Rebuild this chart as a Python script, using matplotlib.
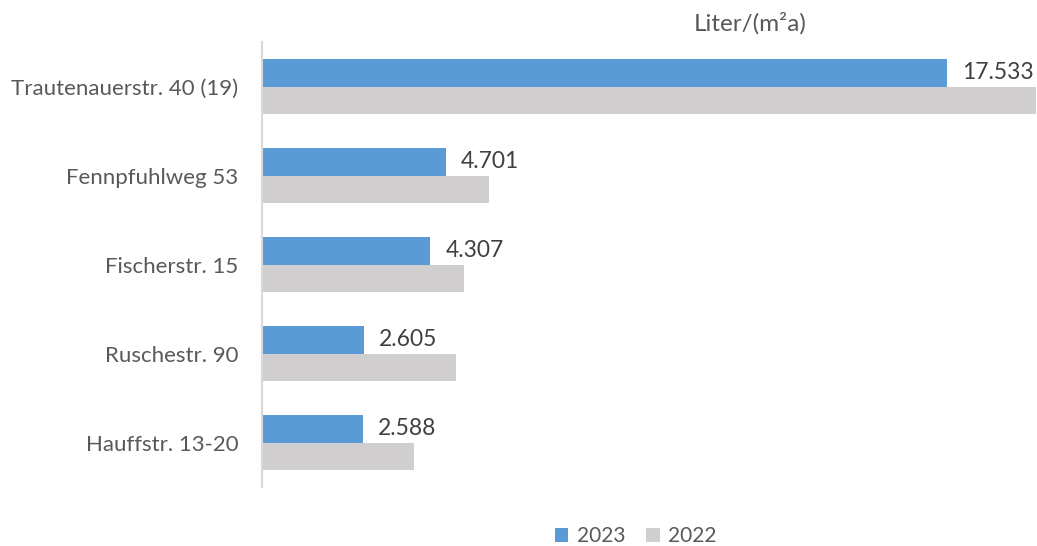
import matplotlib.pyplot as plt
import numpy as np

categories = ["Trautenauerstr. 40 (19)", "Fennpfuhlweg 53", "Fischerstr. 15",
              "Ruschestr. 90", "Hauffstr. 13-20"]
values_2023 = [17.533, 4.701, 4.307, 2.605, 2.588]
values_2022 = [19.8, 5.81, 5.18, 4.96, 3.90]
series_labels = ["2023", "2022"]
unit_label = "Liter/(m²a)"

blue = "#5B9BD5"
grey = "#D0CECE"
text_col = "#595959"

plt.rcParams['font.family'] = ['Lato', 'DejaVu Sans']

fig = plt.figure(figsize=(10.37, 5.46), dpi=100)
ax = fig.add_axes([0.2524, 0.108, 0.7476, 0.815])

y = np.arange(len(categories))
h = 0.305
ax.barh(y - h / 2, values_2023, height=h, color=blue, label=series_labels[0])
ax.barh(y + h / 2, values_2022, height=h, color=grey, label=series_labels[1])

for yi, v in zip(y, values_2023):
    ax.annotate(f"{v:.3f}", (v, yi - h / 2), xytext=(11, 0), textcoords="offset points",
                va="center", ha="left", fontsize=16.5, color="#404040")

ax.set_xlim(0, 19.83)
ax.set_ylim(len(categories) - 0.5, -0.5)
ax.set_yticks(y)
ax.set_yticklabels(categories, fontsize=16, color=text_col)
ax.tick_params(axis="y", length=0, pad=17)
ax.set_xticks([])
for s in ["top", "right", "bottom"]:
    ax.spines[s].set_visible(False)
ax.spines["left"].set_color("#D9D9D9")
ax.spines["left"].set_linewidth(1.5)

fig.text(0.723, 0.957, unit_label, ha="center", va="center", fontsize=17.5, color=text_col)

leg = fig.legend(loc="center", bbox_to_anchor=(0.613, 0.018), ncol=2, frameon=False,
                 fontsize=15, handlelength=0.65, handleheight=0.65, handletextpad=0.4,
                 columnspacing=1.0)
for t in leg.get_texts():
    t.set_color(text_col)

fig.savefig("out.png", dpi=100)
